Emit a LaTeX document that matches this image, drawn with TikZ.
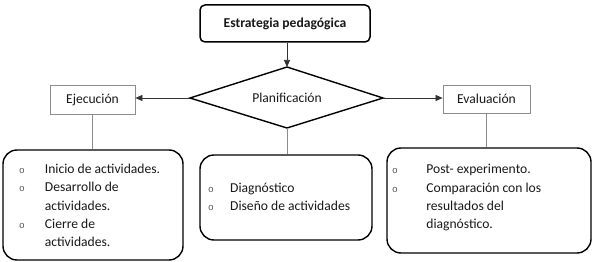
\documentclass[tikz,border=0pt]{standalone}
\usepackage{fontspec}
\setmainfont{Carlito}
\newfontfamily\bulfont{Liberation Mono}
\usetikzlibrary{arrows.meta,shapes.geometric}
\newcommand{\bul}{{\bulfont\fontsize{9.5}{9.5}\selectfont\color{black!65}o}}
\begin{document}
\begin{tikzpicture}[x=1pt,y=-1pt,
  txt/.style={font=\fontsize{13.6}{18.2}\selectfont, text=black!90, inner sep=0pt},
  mainbox/.style={draw=black, line width=1.5pt, rounded corners=5pt, inner sep=0pt},
  listbox/.style={draw=black, line width=1.4pt, rounded corners=14pt, inner sep=0pt},
  subbox/.style={draw=black!45, line width=0.8pt, inner sep=0pt, fill=white},
  arr/.style={draw=black!80, line width=0.7pt, -{Triangle[length=7pt,width=6pt]}},
  link/.style={draw=black!45, line width=0.8pt}]
\useasboundingbox (0,0) rectangle (595,262);
\fill[white] (0,0) rectangle (595,262);

% top box
\node[mainbox, minimum width=170pt, minimum height=37pt, txt, font=\fontsize{13.6}{16}\bfseries] (top) at (285,23.5) {Estrategia pedagógica};

% diamond
\coordinate (dT) at (287,67);
\coordinate (dB) at (287,128);
\coordinate (dL) at (190,98);
\coordinate (dR) at (383,98);
\draw[black, line width=1.4pt, line join=miter] (dT) -- (dR) -- (dB) -- (dL) -- cycle;
\node[txt] (plan) at (287,98) {Planificación};

% sub boxes
\node[subbox, minimum width=85pt, minimum height=29pt, txt] (eje) at (92.5,99.5) {Ejecución};
\node[subbox, minimum width=87pt, minimum height=28pt, txt] (eva) at (486.5,99) {Evaluación};

% arrows
\draw[arr] (top.south -| dT) -- (dT);
\draw[arr] (dL) -- (eje.east |- dL);
\draw[arr] (dR) -- (eva.west |- dR);

% list boxes
\node[listbox, minimum width=180pt, minimum height=110pt] (lbox) at (93,205) {};
\node[listbox, minimum width=172pt, minimum height=85pt] (mbox) at (286,197.5) {};
\node[listbox, minimum width=204pt, minimum height=105pt] (rbox) at (489,200.5) {};

% connectors
\draw[link] (eje.south) -- (lbox.north -| eje.south);
\draw[link] (dB) -- (mbox.north -| dB);
\draw[link] (eva.south) -- (rbox.north -| eva.south);

% lists
\node[txt, anchor=west] (llist) at (19,206.5) {%
  \begin{tabular}{@{}l@{\hspace{20pt}}l@{}}
  \bul & Inicio de actividades.\\
  \bul & Desarrollo de\\
       & actividades.\\
  \bul & Cierre de\\
       & actividades.
  \end{tabular}};
\node[txt, anchor=west] (mlist) at (207.8,197.5) {%
  \begin{tabular}{@{}l@{\hspace{16.5pt}}l@{}}
  \bul & Diagnóstico\\
  \bul & Diseño de actividades
  \end{tabular}};
\node[txt, anchor=west] (rlist) at (392,197.5) {%
  \begin{tabular}{@{}l@{\hspace{28.5pt}}l@{}}
  \bul & Post- experimento.\\
  \bul & Comparación con los\\
       & resultados del\\
       & diagnóstico.
  \end{tabular}};
\end{tikzpicture}
\end{document}
